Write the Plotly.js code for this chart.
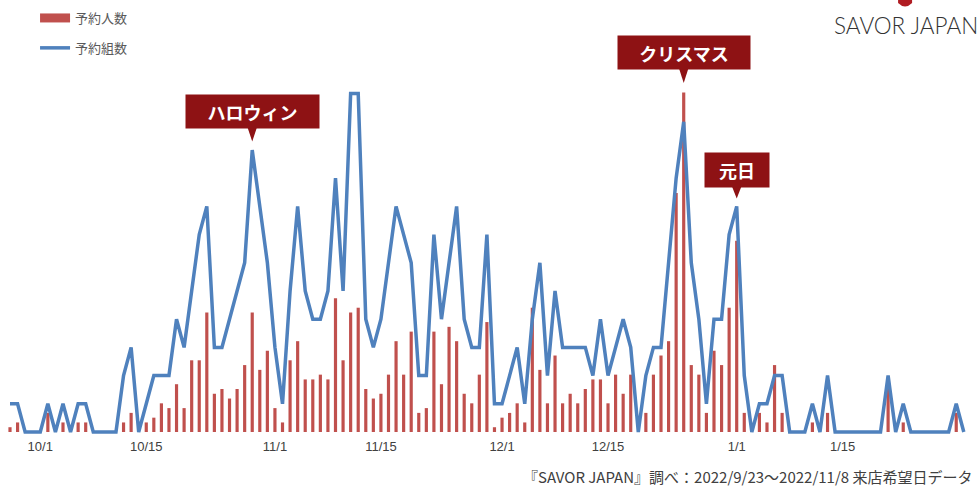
<!DOCTYPE html>
<html><head><meta charset="utf-8">
<script src="https://cdn.plot.ly/plotly-3.0.1.min.js"></script>
<style>html,body{margin:0;padding:0;background:#fff;} #chart{width:979px;height:486px;}</style>
</head><body><div id="chart"></div>
<script>
// ---- data (daily, starting 2022-09-27) ----
const startDate = [2022, 9, 27];
const people = [1,2,0,0,0,4,0,2,0,2, 2,0,0,0,0,2,4,0,2,3, 6,5,10,5,15,15,25,8,9,7, 9,14,25,13,17,5,2,15,19,11, 11,12,11,28,15,25,26,9,7,8, 12,19,12,21,4,5,21,10,22,19, 8,6,12,23,1,3,4,6,2,26, 13,6,16,6,8,6,9,11,11,6, 12,8,12,0,4,12,16,19,50,71, 14,12,4,17,14,26,40,4,0,4, 2,14,4,0,0,0,2,0,4,0, 0,0,0,0,0,0,9,0,2,0, 0,0,0,0,0,4,0];
const groups = [1,1,0,0,0,1,0,1,0,1, 1,0,0,0,0,2,3,0,1,2, 2,2,4,3,5,7,8,3,3,4, 5,6,10,8,6,3,1,5,8,5, 4,4,5,9,5,12,12,4,3,4, 6,8,7,6,2,2,7,4,6,8, 4,3,3,7,1,1,2,3,1,4, 6,2,5,3,3,3,3,2,4,2, 3,4,3,0,2,3,3,6,9,11, 6,4,1,4,4,7,8,2,0,1, 1,2,2,0,0,0,1,0,2,0, 0,0,0,0,0,0,2,0,1,0, 0,0,0,0,0,1,0];
const seriesNames = ['予約人数', '予約組数'];
const tickDates = ['2022-10-01','2022-10-15','2022-11-01','2022-11-15','2022-12-01','2022-12-15','2023-01-01','2023-01-15'];
const tickLabels = ['10/1','10/15','11/1','11/15','12/1','12/15','1/1','1/15'];
const eventLabels = ['ハロウィン', 'クリスマス', '元日'];
const eventDates = ['2022-10-29', '2022-12-25', '2023-01-01'];
const eventSeries = ['groups', 'people', 'groups'];
const sourceText = '『SAVOR JAPAN』調べ：2022/9/23～2022/11/8 来店希望日データ';
const logoText = 'SAVOR JAPAN';

// ---- build ----
const dates = people.map((_, i) => {
  const d = new Date(Date.UTC(startDate[0], startDate[1] - 1, startDate[2] + i));
  return d.toISOString().slice(0, 10);
});

const RED = '#c0504d', BLUE = '#4f81bd', BOX = '#8e1214';
const jp = '"Noto Sans CJK JP", "Noto Sans", sans-serif';

const traces = [
  {type: 'bar', x: dates, y: people, name: seriesNames[0], marker: {color: RED},
   yaxis: 'y', showlegend: false, hoverinfo: 'x+y'},
  // legend-only entry drawn as a wide swatch for the bar series
  {type: 'scatter', mode: 'lines', x: [null], y: [null], name: seriesNames[0],
   line: {color: RED, width: 9}, yaxis: 'y', legendgroup: 'a', hoverinfo: 'skip'},
  {type: 'scatter', mode: 'lines', x: dates, y: groups, name: seriesNames[1],
   line: {color: BLUE, width: 3.5}, yaxis: 'y2', legendgroup: 'b', hoverinfo: 'x+y'}
];

// event boxes styling (layout, not data)
const boxW = [133, 132, 64], boxH = [33, 33, 34], gaps = [21, 22.5, 18.5], tips = [8.5, 9.5, 8];
const annotations = [], shapes = [];
eventLabels.forEach((lab, k) => {
  const idx = dates.indexOf(eventDates[k]);
  const isP = eventSeries[k] === 'people';
  const val = isP ? people[idx] : groups[idx];
  const yref = isP ? 'y' : 'y2';
  annotations.push({x: dates[idx], y: val, xref: 'x', yref: yref, showarrow: false,
    xanchor: 'center', yanchor: 'bottom', yshift: gaps[k], width: boxW[k], height: boxH[k],
    borderpad: 0, bgcolor: BOX, text: '<b>' + lab + '</b>',
    font: {family: jp, size: 18, color: '#ffffff'}});
  shapes.push({type: 'path', xref: 'x', yref: yref, xsizemode: 'pixel', ysizemode: 'pixel',
    xanchor: dates[idx], yanchor: val,
    path: 'M -4.5 ' + (gaps[k] + 1) + ' L 4.5 ' + (gaps[k] + 1) + ' L 0 ' + tips[k] + ' Z',
    fillcolor: BOX, line: {width: 0}});
});
// small red mark of the logo (partly cut at the top edge)
shapes.push({type: 'path', xref: 'paper', yref: 'paper', xsizemode: 'pixel', ysizemode: 'pixel',
  xanchor: 0.9245, yanchor: 1.0737,
  path: 'M -7 0 L 7 0 L 7 -3 Q 0 -10 -7 -3 Z', fillcolor: '#b01c22', line: {width: 0}});

const T = 30, B = 437, H = B - T;
annotations.push({xref: 'paper', yref: 'paper', x: 1, y: (B - 476) / H, xanchor: 'right', yanchor: 'middle',
  xshift: -4, showarrow: false, text: sourceText, font: {family: jp, size: 15, color: '#404040'}});
annotations.push({xref: 'paper', yref: 'paper', x: 832 / 979, y: (B - 26) / H, xanchor: 'left', yanchor: 'middle',
  showarrow: false, text: logoText, font: {family: 'Lato, "Open Sans", sans-serif', size: 22.5, weight: 300, color: '#333333'}});

const layout = {
  width: 979, height: 486,
  margin: {l: 0, r: 0, t: T, b: 486 - B},
  paper_bgcolor: '#ffffff', plot_bgcolor: '#ffffff',
  bargap: 0.58,
  showlegend: true,
  legend: {x: 0.0358, y: (B - 3) / H, xanchor: 'left', yanchor: 'top', traceorder: 'grouped',
    tracegroupgap: 10, bgcolor: 'rgba(0,0,0,0)', font: {family: jp, size: 13, color: '#595959'}},
  xaxis: {type: 'date', range: ['2022-09-25 16:18', '2023-02-02 00:12'], tickvals: tickDates, ticktext: tickLabels,
    showgrid: false, zeroline: false, showline: false, ticks: '',
    tickfont: {family: 'Arial, "Liberation Sans", sans-serif', size: 13, color: '#404040'}},
  yaxis: {range: [-5 / 4.78, (432 - T) / 4.78], visible: false, fixedrange: true},
  yaxis2: {range: [-5 / 28.2, (432 - T) / 28.2], overlaying: 'y', visible: false},
  annotations: annotations,
  shapes: shapes
};

Plotly.newPlot('chart', traces, layout, {displayModeBar: false, staticPlot: true});
</script>
</body></html>
